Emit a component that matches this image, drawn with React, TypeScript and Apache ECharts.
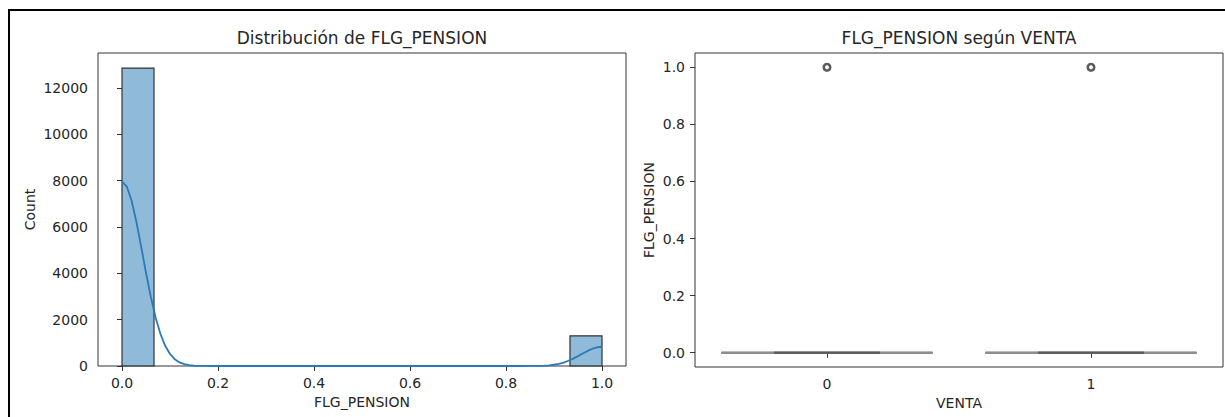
import React, { useEffect, useRef } from "react";
import * as echarts from "echarts";

// ---------- Left panel: histogram of FLG_PENSION ----------
const histBinStarts = [0, 0.0667, 0.1333, 0.2, 0.2667, 0.3333, 0.4, 0.4667, 0.5333, 0.6, 0.6667, 0.7333, 0.8, 0.8667, 0.9333];
const histBinEnds = [0.0667, 0.1333, 0.2, 0.2667, 0.3333, 0.4, 0.4667, 0.5333, 0.6, 0.6667, 0.7333, 0.8, 0.8667, 0.9333, 1.0];
const histCounts = [12850, 0, 0, 0, 0, 0, 0, 0, 0, 0, 0, 0, 0, 0, 1300];

const kdeX = [0, 0.01, 0.02, 0.03, 0.04, 0.05, 0.06, 0.07, 0.08, 0.09, 0.1, 0.11, 0.12, 0.13, 0.14, 0.15, 0.17, 0.2, 0.4, 0.6, 0.8, 0.83, 0.85, 0.86, 0.87, 0.88, 0.89, 0.9, 0.91, 0.92, 0.93, 0.94, 0.95, 0.96, 0.97, 0.98, 0.99, 1.0];
const kdeY = [7950, 7740, 7130, 6220, 5140, 4020, 2980, 2090, 1390, 870, 520, 290, 156, 79, 38, 17, 3, 0, 0, 0, 0, 1, 2, 4, 8, 16, 31, 54, 91, 145, 225, 320, 425, 540, 650, 745, 808, 830];

const leftXTicks = [0, 0.2, 0.4, 0.6, 0.8, 1.0];
const leftYTicks = [0, 2000, 4000, 6000, 8000, 10000, 12000];

// ---------- Right panel: boxplot FLG_PENSION by VENTA ----------
const ventaCategories = ["0", "1"];
const boxQ1 = [0, 0];
const boxMedian = [0, 0];
const boxQ3 = [0, 0];
const whiskerLow = [0, 0];
const whiskerHigh = [0, 0];
const outlierPoints = [
  [0, 1],
  [1, 1],
];
const rightYTicks = [0, 0.2, 0.4, 0.6, 0.8, 1.0];

const FONT = "DejaVu Sans";
const TXT = "#262626";

export default function App() {
  const ref = useRef<HTMLDivElement>(null);

  useEffect(() => {
    document.body.style.margin = "0";
    document.body.style.overflow = "hidden";
    if (!ref.current) return;
    const chart = echarts.init(ref.current, null, { renderer: "svg" });

    const histData = histCounts.map((c, i) => [histBinStarts[i], histBinEnds[i], c]);
    const kdeData = kdeX.map((x, i) => [x, kdeY[i]]);
    const boxData = ventaCategories.map((_, i) => [i, boxQ1[i], boxMedian[i], boxQ3[i], whiskerLow[i], whiskerHigh[i]]);

    const labelStyle = { color: TXT, fontFamily: FONT, fontSize: 14 };
    const nameStyle = { color: TXT, fontFamily: FONT, fontSize: 14 };
    const tickStyle = { show: true, length: 5, lineStyle: { color: "#333", width: 1 } };

    const option: any = {
      animation: false,
      backgroundColor: "#fff",
      title: [
        {
          text: "Distribución de FLG_PENSION",
          left: 362,
          top: 29,
          textAlign: "center",
          padding: 0,
          textStyle: { color: TXT, fontFamily: FONT, fontSize: 17, fontWeight: "normal" },
        },
        {
          text: "FLG_PENSION según VENTA",
          left: 959,
          top: 29,
          textAlign: "center",
          padding: 0,
          textStyle: { color: TXT, fontFamily: FONT, fontSize: 17, fontWeight: "normal" },
        },
      ],
      grid: [
        { left: 98, top: 53, width: 528, height: 313, show: true, borderColor: "#333", borderWidth: 1, backgroundColor: "transparent" },
        { left: 695, top: 53, width: 528, height: 314, show: true, borderColor: "#333", borderWidth: 1, backgroundColor: "transparent" },
      ],
      xAxis: [
        {
          type: "value",
          gridIndex: 0,
          min: -0.05,
          max: 1.05,
          name: "FLG_PENSION",
          nameLocation: "middle",
          nameGap: 29,
          nameTextStyle: nameStyle,
          axisLine: { show: false },
          splitLine: { show: false },
          axisTick: { ...tickStyle, customValues: leftXTicks },
          axisLabel: { ...labelStyle, margin: 10, customValues: leftXTicks, formatter: (v: number) => v.toFixed(1) },
        },
        {
          type: "category",
          gridIndex: 1,
          data: ventaCategories,
          boundaryGap: true,
          name: "VENTA",
          nameLocation: "middle",
          nameGap: 29,
          nameTextStyle: nameStyle,
          axisLine: { show: false },
          splitLine: { show: false },
          axisTick: { ...tickStyle, alignWithLabel: true },
          axisLabel: { ...labelStyle, margin: 10 },
        },
      ],
      yAxis: [
        {
          type: "value",
          gridIndex: 0,
          min: 0,
          max: 13500,
          name: "Count",
          nameLocation: "middle",
          nameGap: 61,
          nameTextStyle: nameStyle,
          axisLine: { show: false },
          splitLine: { show: false },
          axisTick: { ...tickStyle, customValues: leftYTicks },
          axisLabel: { ...labelStyle, margin: 10, customValues: leftYTicks, formatter: (v: number) => String(v) },
        },
        {
          type: "value",
          gridIndex: 1,
          min: -0.05,
          max: 1.05,
          name: "FLG_PENSION",
          nameLocation: "middle",
          nameGap: 39,
          nameTextStyle: nameStyle,
          axisLine: { show: false },
          splitLine: { show: false },
          axisTick: { ...tickStyle, customValues: rightYTicks },
          axisLabel: { ...labelStyle, margin: 10, customValues: rightYTicks, formatter: (v: number) => v.toFixed(1) },
        },
      ],
      graphic: [
        {
          type: "rect",
          silent: true,
          z: 100,
          shape: { x: 9, y: 10, width: 1400, height: 600 },
          style: { fill: "none", stroke: "#000", lineWidth: 2 },
        },
      ],
      series: [
        {
          type: "custom",
          xAxisIndex: 0,
          yAxisIndex: 0,
          z: 1,
          data: histData,
          encode: { x: [0, 1], y: 2 },
          renderItem: (params: any, api: any) => {
            const x0 = api.value(0);
            const x1 = api.value(1);
            const c = api.value(2);
            if (!c) return null;
            const p0 = api.coord([x0, c]);
            const p1 = api.coord([x1, 0]);
            return {
              type: "rect",
              shape: { x: p0[0], y: p0[1], width: p1[0] - p0[0], height: p1[1] - p0[1] },
              style: { fill: "rgba(31,119,180,0.5)", stroke: "#333", lineWidth: 1.2 },
            };
          },
        },
        {
          type: "line",
          xAxisIndex: 0,
          yAxisIndex: 0,
          z: 3,
          data: kdeData,
          showSymbol: false,
          symbol: "none",
          smooth: false,
          lineStyle: { color: "#2a7ab8", width: 1.8 },
        },
        {
          type: "custom",
          xAxisIndex: 1,
          yAxisIndex: 1,
          z: 2,
          data: boxData,
          encode: { x: 0, y: [1, 2, 3, 4, 5] },
          renderItem: (params: any, api: any) => {
            const idx = api.value(0);
            const band = api.size([1, 0])[0];
            const cx = api.coord([idx, 0])[0];
            const y = (v: number) => api.coord([idx, v])[1];
            const q1 = y(api.value(1));
            const med = y(api.value(2));
            const q3 = y(api.value(3));
            const lo = y(api.value(4));
            const hi = y(api.value(5));
            const half = band * 0.4;
            const cap = band * 0.2;
            const light = { stroke: "#8c8c8c", lineWidth: 2 };
            const dark = { stroke: "#5c5c5c", lineWidth: 2 };
            return {
              type: "group",
              children: [
                { type: "line", shape: { x1: cx - half, y1: q3, x2: cx + half, y2: q3 }, style: light },
                { type: "line", shape: { x1: cx - half, y1: q1, x2: cx + half, y2: q1 }, style: light },
                { type: "line", shape: { x1: cx - half, y1: med, x2: cx + half, y2: med }, style: light },
                { type: "line", shape: { x1: cx, y1: q3, x2: cx, y2: hi }, style: dark },
                { type: "line", shape: { x1: cx, y1: q1, x2: cx, y2: lo }, style: dark },
                { type: "line", shape: { x1: cx - cap, y1: hi, x2: cx + cap, y2: hi }, style: dark },
                { type: "line", shape: { x1: cx - cap, y1: lo, x2: cx + cap, y2: lo }, style: dark },
              ],
            };
          },
        },
        {
          type: "scatter",
          xAxisIndex: 1,
          yAxisIndex: 1,
          z: 3,
          data: outlierPoints,
          symbol: "circle",
          symbolSize: 6.5,
          itemStyle: { color: "#fff", borderColor: "#333", borderWidth: 2.6 },
        },
      ],
    };

    chart.setOption(option);
    return () => chart.dispose();
  }, []);

  return <div ref={ref} style={{ width: 1225, height: 417 }} />;
}
